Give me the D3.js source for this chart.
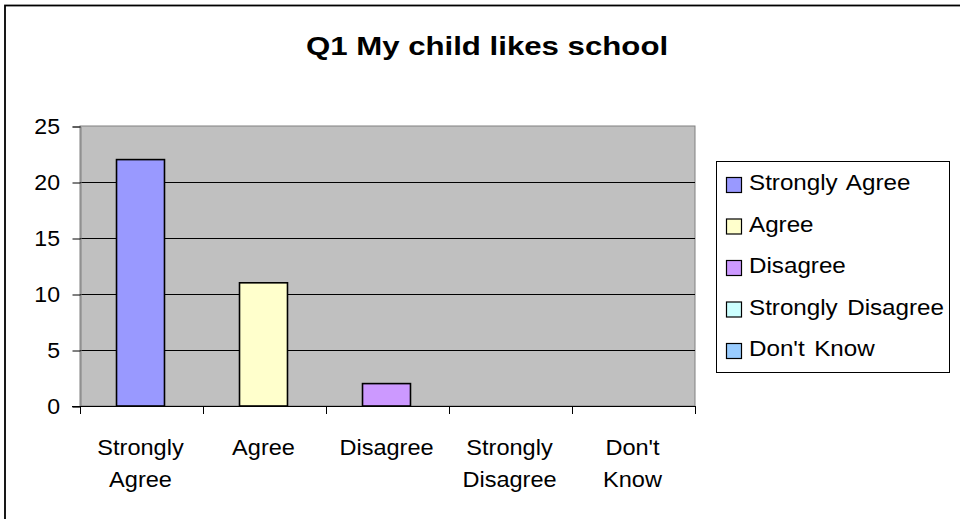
<!DOCTYPE html>
<html>
<head>
<meta charset="utf-8">
<script src="https://cdn.jsdelivr.net/npm/d3@7"></script>
<style>
  html, body { margin: 0; padding: 0; background: #fff; }
  svg { display: block; }
  text { font-family: "Liberation Sans", Arimo, Arial, sans-serif; fill: #000; }
</style>
</head>
<body>
<svg id="chart" width="960" height="519"></svg>
<script>
// ---- data ----
const title = "Q1 My child likes school";
const categories = ["Strongly Agree", "Agree", "Disagree", "Strongly Disagree", "Don't Know"];
const categoryLines = [["Strongly", "Agree"], ["Agree"], ["Disagree"], ["Strongly", "Disagree"], ["Don't", "Know"]];
const values = [22, 11, 2, 0, 0];
const colors = ["#9999FF", "#FFFFCC", "#CC99FF", "#CCFFFF", "#99CCFF"];
const yTicks = [0, 5, 10, 15, 20, 25];

// ---- layout ----
const svg = d3.select("#chart");
const plot = { left: 80, right: 695, top: 126, bottom: 406 };

function stretchedText(parent, x, y, str, opts = {}) {
  const t = parent.append("g")
    .attr("transform", `translate(${x},${y}) scale(${opts.sx || 1.1},1)`)
    .append("text")
    .attr("text-anchor", opts.anchor || "start")
    .style("font-size", (opts.size || 22) + "px")
    .style("font-weight", opts.weight || "normal")
    .text(str);
  if (opts.ws) t.style("word-spacing", opts.ws + "px");
  return t;
}

// outer chart border (extends past the bottom-right edge)
svg.append("rect")
  .attr("x", 5).attr("y", 5.5).attr("width", 1000).attr("height", 600)
  .attr("fill", "none").attr("stroke", "#000").attr("stroke-width", 1.8);

// title
stretchedText(svg, 487, 55, title, { anchor: "middle", size: 26, weight: "bold", sx: 1.2 });

// scales
const y = d3.scaleLinear().domain([0, 25]).range([plot.bottom, plot.top]);
const pIn = 0.61;
const x = d3.scaleBand().domain(categories).range([plot.left, plot.right])
  .paddingInner(pIn).paddingOuter(pIn / 2);
const step = x.step();

// plot area background
svg.append("rect")
  .attr("x", plot.left).attr("y", plot.top)
  .attr("width", plot.right - plot.left).attr("height", plot.bottom - plot.top)
  .attr("fill", "#C0C0C0").attr("stroke", "#808080").attr("stroke-width", 1);

// gridlines
svg.append("g").selectAll("line")
  .data(yTicks.filter(t => t > 0 && t < 25))
  .join("line")
  .attr("x1", plot.left).attr("x2", plot.right)
  .attr("y1", d => Math.round(y(d)) + 0.5).attr("y2", d => Math.round(y(d)) + 0.5)
  .attr("stroke", "#000").attr("stroke-width", 1);

// y axis
const yAxis = svg.append("g")
  .attr("transform", `translate(${plot.left + 0.5},0.5)`)
  .call(d3.axisLeft(y).tickValues(yTicks).tickSize(8).tickFormat(""));
yAxis.select(".domain").attr("stroke", "#808080");
yAxis.selectAll(".tick line").attr("stroke", "#000");
yTicks.forEach(t => {
  stretchedText(svg, 60, y(t) + 8, String(t), { anchor: "end", size: 22, sx: 1.05 });
});

// x axis (ticks at category boundaries)
const boundaries = categories.map(c => x(c) - step * pIn / 2).concat([plot.right]);
const xAxisG = svg.append("g");
xAxisG.append("line")
  .attr("x1", plot.left - 8).attr("x2", plot.right)
  .attr("y1", plot.bottom + 0.5).attr("y2", plot.bottom + 0.5)
  .attr("stroke", "#000");
xAxisG.selectAll("line.tk").data(boundaries).join("line")
  .attr("class", "tk")
  .attr("x1", d => Math.round(d) + 0.5).attr("x2", d => Math.round(d) + 0.5)
  .attr("y1", plot.bottom).attr("y2", plot.bottom + 8)
  .attr("stroke", "#000");

categories.forEach((c, i) => {
  const cx = x(c) + x.bandwidth() / 2 - 1;
  categoryLines[i].forEach((ln, j) => {
    stretchedText(svg, cx, 455 + j * 32, ln, { anchor: "middle", size: 22, sx: 1.07 });
  });
});

// bars
svg.append("g").selectAll("rect")
  .data(categories.map((c, i) => ({ c, v: values[i], col: colors[i] })).filter(d => d.v > 0))
  .join("rect")
  .attr("x", d => x(d.c) - 1)
  .attr("y", d => y(d.v))
  .attr("width", x.bandwidth())
  .attr("height", d => y(0) - y(d.v))
  .attr("fill", d => d.col)
  .attr("stroke", "#000").attr("stroke-width", 1.6);

// legend
const leg = { x: 716, y: 161, w: 233, h: 211 };
svg.append("rect")
  .attr("x", leg.x + 0.5).attr("y", leg.y + 0.5).attr("width", leg.w).attr("height", leg.h)
  .attr("fill", "#fff").attr("stroke", "#000").attr("stroke-width", 1);
categories.forEach((c, i) => {
  const cy = 185 + i * 41.5;
  svg.append("rect")
    .attr("x", 726.5).attr("y", cy - 7.5).attr("width", 15).attr("height", 15)
    .attr("fill", colors[i]).attr("stroke", "#000").attr("stroke-width", 1.2);
  stretchedText(svg, 749, cy + 5, c, { anchor: "start", size: 22, sx: 1.1, ws: 2.5 });
});
</script>
</body>
</html>
